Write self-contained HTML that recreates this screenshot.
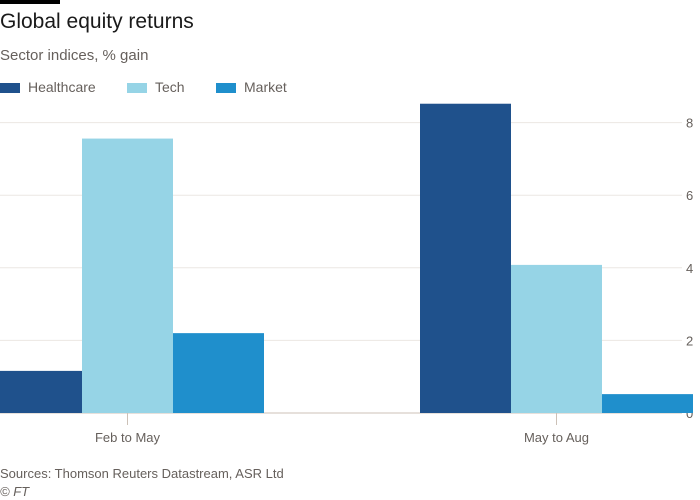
<!DOCTYPE html>
<html><head><meta charset="utf-8"><style>
body{margin:0;background:#fff;font-family:"Liberation Sans",sans-serif;}
#wrap{position:relative;width:700px;height:500px;overflow:hidden;}
.t{position:absolute;white-space:nowrap;}
</style></head><body>
<div id="wrap">
<div style="position:absolute;left:0;top:0;width:60px;height:4px;background:#000"></div>
<div class="t" style="left:0;top:10px;font-size:21px;color:#1a1a1a">Global equity returns</div>
<div class="t" style="left:0;top:47px;font-size:15px;color:#66605c">Sector indices, % gain</div>
<div>
<div><div style="position:absolute;left:0;top:83px;width:20px;height:10px;background:#1f518c"></div><div class="t" style="left:28px;top:79px;font-size:14px;color:#66605c">Healthcare</div></div>
<div><div style="position:absolute;left:127px;top:83px;width:20px;height:10px;background:#96d4e6"></div><div class="t" style="left:155px;top:79px;font-size:14px;color:#66605c">Tech</div></div>
<div><div style="position:absolute;left:216px;top:83px;width:20px;height:10px;background:#1f8fcc"></div><div class="t" style="left:244px;top:79px;font-size:14px;color:#66605c">Market</div></div>
</div>
<svg id="chart" width="700" height="500" style="position:absolute;left:0;top:0"></svg>
<div class="t" style="left:0;top:466px;font-size:13px;color:#66605c">Sources: Thomson Reuters Datastream, ASR Ltd</div>
<div class="t" style="left:0;top:484px;font-size:13px;color:#66605c;font-style:italic">© FT</div>
</div>
<script>
const categories=["Feb to May","May to Aug"];
const seriesNames=["Healthcare","Tech","Market"];
const healthcare=[1.16,8.52];
const tech=[7.56,4.08];
const market=[2.2,0.52];
const yTicks=[0,2,4,6,8];
const colors=["#1f518c","#96d4e6","#1f8fcc"];
const NS="http://www.w3.org/2000/svg";
const svg=document.getElementById("chart");
const y0=413,pxPerUnit=36.3;
function y(v){return y0-v*pxPerUnit;}
const groupStart=[-9,420],barW=91;
function mk(tag,attrs){const e=document.createElementNS(NS,tag);for(const k in attrs)e.setAttribute(k,attrs[k]);svg.appendChild(e);return e;}
yTicks.forEach(t=>{
 const l=mk("line",{x1:0,x2:682,y1:y(t),y2:y(t),stroke:t===0?"#ccc1b7":"#ebe7e3","stroke-width":1});
 
 
 const tx=mk("text",{x:686,y:y(t)+5,"font-size":13,fill:"#66605c","font-family":"Liberation Sans, sans-serif"});
 tx.textContent=t;
 
 
});
const all=[healthcare,tech,market];
categories.forEach((c,i)=>{
 all.forEach((s,j)=>{
  const x=Math.max(0,groupStart[i]+j*barW), x2=groupStart[i]+(j+1)*barW;
  const r=mk("rect",{x:x,y:y(s[i]),width:x2-x,height:y0-y(s[i]),fill:colors[j]});
  
  
 });
 const cx=groupStart[i]+1.5*barW;
 const tk=mk("line",{x1:cx,x2:cx,y1:y0,y2:y0+12,stroke:"#ccc1b7"});
 
 
 const lb=mk("text",{x:cx,y:442,"text-anchor":"middle","font-size":13,fill:"#66605c","font-family":"Liberation Sans, sans-serif"});
 lb.textContent=c;
 
 
});
</script>
</body></html>
